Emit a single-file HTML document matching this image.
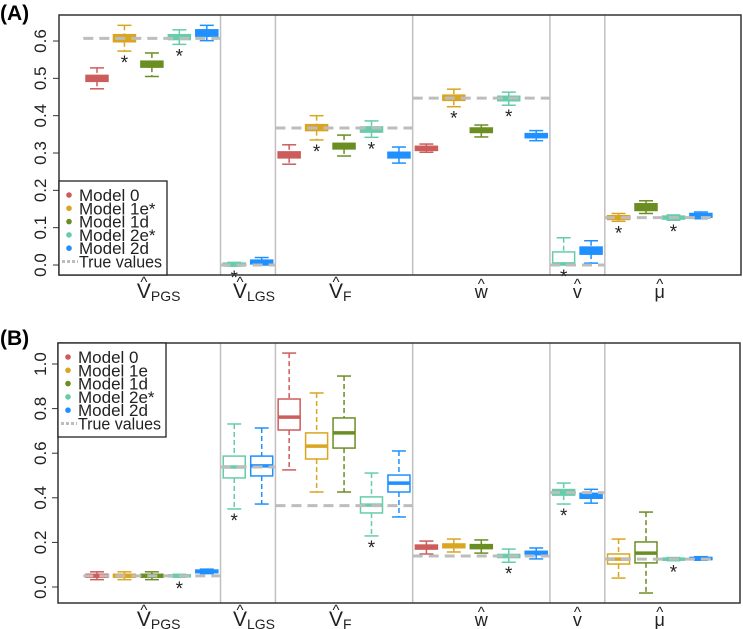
<!DOCTYPE html>
<html><head><meta charset="utf-8">
<style>
html,body{margin:0;padding:0;background:#fff;}
svg{display:block;font-family:"Liberation Sans",Arial,sans-serif;}
</style></head>
<body>
<svg id="chart" width="743" height="629" viewBox="0 0 743 629"></svg>
<script>
// ---- shared categories ----
const modelNames = ["Model 0","Model 1e","Model 1d","Model 2e*","Model 2d"];
const modelColors = ["#CD5C5C","#DAA520","#6B8E23","#66CDAA","#1E90FF"];
const boxModels = [0,1,2,3,4, 3,4, 0,1,2,3,4, 0,1,2,3,4, 3,4, 1,2,3,4];
const groupLabels = ["V","V","V","w","v","μ"];
const groupSubs = ["PGS","LGS","F","","",""];
const groupStart = [1,6,8,13,18,20];
const groupEnd = [5,7,12,17,19,23];

// ---- panel A data ----
const medA = [0.500,0.607,0.538,0.611,0.622, 0.000,0.009, 0.295,0.368,0.318,0.364,0.295, 0.313,0.447,0.361,0.446,0.347, 0.003,0.040, 0.127,0.155,0.127,0.133];
const q1A  = [0.492,0.598,0.530,0.604,0.613, -0.002,0.003, 0.287,0.360,0.311,0.356,0.287, 0.307,0.441,0.355,0.440,0.341, 0.003,0.029, 0.122,0.146,0.123,0.128];
const q3A  = [0.508,0.617,0.546,0.617,0.630, 0.005,0.013, 0.303,0.376,0.326,0.370,0.302, 0.318,0.455,0.367,0.452,0.352, 0.035,0.048, 0.132,0.164,0.131,0.138];
const loA  = [0.472,0.573,0.505,0.591,0.601, -0.003,0.000, 0.270,0.335,0.292,0.342,0.273, 0.302,0.424,0.343,0.428,0.333, 0.000,0.005, 0.117,0.138,0.120,0.124];
const hiA  = [0.528,0.642,0.568,0.630,0.642, 0.007,0.020, 0.322,0.400,0.348,0.386,0.316, 0.324,0.471,0.375,0.463,0.360, 0.073,0.065, 0.138,0.172,0.134,0.142];
const starA = [0,1,0,1,0, 1,0, 0,1,0,1,0, 0,1,0,1,0, 1,0, 1,0,1,0];
const trueA = [0.607,0.0,0.367,0.447,0.0,0.127];
const ticksA = [0.0,0.1,0.2,0.3,0.4,0.5,0.6];
const tickLabA = ["0.0","0.1","0.2","0.3","0.4","0.5","0.6"];
const legendA = ["Model 0","Model 1e*","Model 1d","Model 2e*","Model 2d"];

// ---- panel B data ----
const medB = [0.050,0.050,0.050,0.050,0.070, 0.538,0.543, 0.762,0.632,0.691,0.367,0.466, 0.179,0.184,0.183,0.139,0.152, 0.425,0.408, 0.125,0.152,0.125,0.128];
const q1B  = [0.044,0.044,0.044,0.046,0.064, 0.489,0.498, 0.704,0.574,0.623,0.332,0.426, 0.170,0.176,0.172,0.132,0.145, 0.412,0.398, 0.103,0.108,0.121,0.123];
const q3B  = [0.057,0.057,0.057,0.054,0.076, 0.587,0.587, 0.843,0.691,0.758,0.404,0.502, 0.188,0.193,0.190,0.146,0.160, 0.437,0.420, 0.148,0.202,0.129,0.132];
const loB  = [0.033,0.033,0.033,0.044,0.060, 0.350,0.372, 0.525,0.426,0.426,0.229,0.314, 0.148,0.157,0.152,0.111,0.126, 0.372,0.376, 0.040,-0.027,0.118,0.120];
const hiB  = [0.068,0.068,0.068,0.057,0.080, 0.731,0.713, 1.049,0.870,0.946,0.511,0.610, 0.206,0.215,0.211,0.170,0.175, 0.466,0.438, 0.215,0.336,0.132,0.136];
const starB = [0,0,0,1,0, 1,0, 0,0,0,1,0, 0,0,0,1,0, 1,0, 0,0,1,0];
const trueB = [0.05,0.538,0.365,0.139,0.423,0.125];
const ticksB = [0.0,0.2,0.4,0.6,0.8,1.0];
const tickLabB = ["0.0","0.2","0.4","0.6","0.8","1.0"];
const legendB = ["Model 0","Model 1e","Model 1d","Model 2e*","Model 2d"];

const NS = "http://www.w3.org/2000/svg";
const svg = document.getElementById("chart");
function mk(tag, attrs, parent){
  const e = document.createElementNS(NS, tag);
  for (const k in attrs) e.setAttribute(k, attrs[k]);
  (parent||svg).appendChild(e);
  return e;
}
// x axis: slot index -> pixel
function xPos(i){ return 97 + 27.45*(i-1); }

function drawPanel(p){
  const g = mk("g", {});
  
  
  const y = v => p.y0 - v*p.k;
  const L=p.left, R=p.right, T=p.top, B=p.bottom;
  const t = mk("text", {x:0, y:p.titleY, "font-size":21, "font-weight":"bold", fill:"#000"}, g);
  t.textContent = p.title;
  
  
  for (let gi=0; gi<groupStart.length-1; gi++){
    const xd = (xPos(groupEnd[gi])+xPos(groupStart[gi+1]))/2;
    const d = mk("line", {x1:xd, x2:xd, y1:T, y2:B, stroke:"#c0c0c0", "stroke-width":1.5}, g);
    
    
  }
  for (let i=0;i<boxModels.length;i++){
    const c = modelColors[boxModels[i]];
    const cx = xPos(i+1), hw = 11, cw = 7;
    const bg = mk("g", {}, g);
    
    
    mk("line", {x1:cx,x2:cx,y1:y(p.hi[i]),y2:y(p.q3[i]),stroke:c,"stroke-width":1.5,"stroke-dasharray":"5,3"}, bg);
    mk("line", {x1:cx,x2:cx,y1:y(p.q1[i]),y2:y(p.lo[i]),stroke:c,"stroke-width":1.5,"stroke-dasharray":"5,3"}, bg);
    mk("line", {x1:cx-cw,x2:cx+cw,y1:y(p.hi[i]),y2:y(p.hi[i]),stroke:c,"stroke-width":1.5}, bg);
    mk("line", {x1:cx-cw,x2:cx+cw,y1:y(p.lo[i]),y2:y(p.lo[i]),stroke:c,"stroke-width":1.5}, bg);
    const top = y(p.q3[i]), bot = y(p.q1[i]);
    mk("rect", {x:cx-hw, y:top, width:2*hw, height:Math.max(bot-top,0.5), fill: (bot-top<9? c : "#fff"), stroke:c, "stroke-width":1.5}, bg);
    mk("line", {x1:cx-hw,x2:cx+hw,y1:y(p.med[i]),y2:y(p.med[i]),stroke:c,"stroke-width":3.5}, bg);
    if (p.star[i]){
      const s = mk("text", {x:cx, y:y(p.lo[i])+18, "font-size":19, "text-anchor":"middle", fill:"#222"}, bg);
      s.textContent = "*";
      
      
    }
  }
  for (let gi=0; gi<groupStart.length; gi++){
    const x1 = xPos(groupStart[gi]) - 13.7, x2 = xPos(groupEnd[gi]) + 13.7;
    const ln = mk("line", {x1:x1, x2:x2, y1:y(p.tru[gi]), y2:y(p.tru[gi]), stroke:"#bdbdbd", "stroke-width":3, "stroke-dasharray":"10,6"}, g);
    
    
  }
  const fr = mk("rect", {x:L, y:T, width:R-L, height:B-T, fill:"none", stroke:"#333", "stroke-width":1.5}, g);
  
  
  for (let j=0;j<p.ticks.length;j++){
    const ty = y(p.ticks[j]);
    const tk = mk("line", {x1:L-6, x2:L, y1:ty, y2:ty, stroke:"#333", "stroke-width":1}, g);
    
    
    const tl = mk("text", {x:0, y:0, "font-size":17, "text-anchor":"middle", fill:"#222", transform:"translate(46,"+ty+") rotate(-90)"}, g);
    tl.textContent = p.tickLab[j];
    
    
  }
  for (let gi=0; gi<groupStart.length; gi++){
    const cx = (xPos(groupStart[gi])+xPos(groupEnd[gi]))/2 + (groupSubs[gi] ? -8 : 0);
    const lg = mk("g", {}, g);
    
    
    const isV = groupLabels[gi]==="V";
    const tt = mk("text", {x:cx, y:B+23, "font-size":isV?21:18, "text-anchor":"middle", fill:"#222"}, lg);
    tt.textContent = groupLabels[gi];
    const hat = mk("text", {x:cx, y:B+(isV?12:14), "font-size":15, "text-anchor":"middle", fill:"#222"}, lg);
    hat.textContent = "^";
    if (groupSubs[gi]){
      const sb = mk("text", {x:cx+7, y:B+26, "font-size":14, fill:"#222"}, lg);
      sb.textContent = groupSubs[gi];
    }
  }
  const lgd = mk("g", {}, g);
  
  
  mk("rect", {x:p.legX, y:p.legY, width:108, height:94, fill:"#fff", stroke:"#222", "stroke-width":1.3}, lgd);
  for (let m=0;m<5;m++){
    const ey = p.legY + 14 + m*13.3;
    const en = mk("g", {}, lgd);
    
    
    mk("circle", {cx:p.legX+10, cy:ey, r:2.8, fill:modelColors[m]}, en);
    const et = mk("text", {x:p.legX+20, y:ey+6, "font-size":17, fill:"#222", textLength: p.legend[m].length*8.3 > 80 ? 70 : null}, en);
    if (!(p.legend[m].length*8.3 > 80)) et.removeAttribute("textLength");
    et.textContent = p.legend[m];
  }
  const ey = p.legY + 14 + 5*13.3;
  const en = mk("g", {}, lgd);
  
  
  mk("line", {x1:p.legX+3, x2:p.legX+19, y1:ey, y2:ey, stroke:"#bdbdbd", "stroke-width":3, "stroke-dasharray":"3,2"}, en);
  const et = mk("text", {x:p.legX+20, y:ey+6, "font-size":17, fill:"#222", textLength:83, lengthAdjust:"spacingAndGlyphs"}, en);
  et.textContent = "True values";
}

drawPanel({name:"panel-a", title:"(A)", titleY:20, left:59, right:741, top:15, bottom:275, y0:265, k:373.3,
  med:medA,q1:q1A,q3:q3A,lo:loA,hi:hiA,star:starA,tru:trueA,ticks:ticksA,tickLab:tickLabA,legend:legendA,legX:59,legY:181});
drawPanel({name:"panel-b", title:"(B)", titleY:345, left:58, right:740, top:343, bottom:603, y0:587, k:223,
  med:medB,q1:q1B,q3:q3B,lo:loB,hi:hiB,star:starB,tru:trueB,ticks:ticksB,tickLab:tickLabB,legend:legendB,legX:58,legY:343});
</script>
</body></html>
